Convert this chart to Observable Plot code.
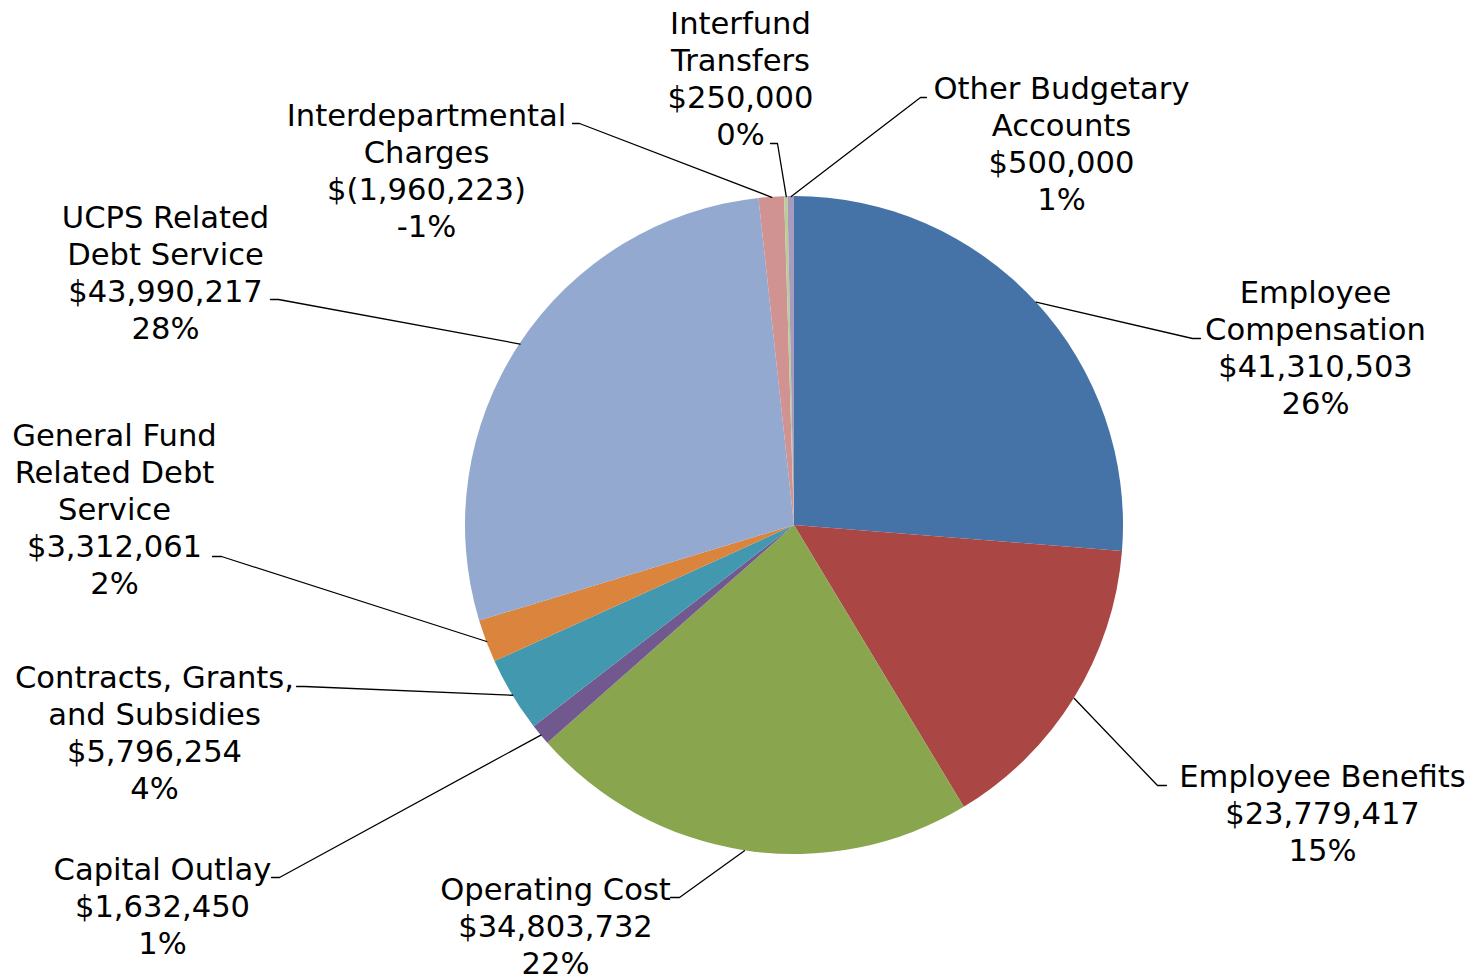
<!DOCTYPE html>
<html>
<head>
<meta charset="utf-8">
<script src="https://cdn.jsdelivr.net/npm/d3@7"></script>
<script src="https://cdn.jsdelivr.net/npm/@observablehq/plot@0.6"></script>
<style>
html, body { margin: 0; padding: 0; background: #fff; }
#chart svg { display: block; }
</style>
</head>
<body>
<div id="chart"></div>
<script>
// ---------- data ----------
const categories = [
  "Employee Compensation", "Employee Benefits", "Operating Cost", "Capital Outlay",
  "Contracts, Grants, and Subsidies", "General Fund Related Debt Service",
  "UCPS Related Debt Service", "Interdepartmental Charges", "Interfund Transfers",
  "Other Budgetary Accounts"
];
const categoryLabels = [
  "Employee\nCompensation", "Employee Benefits", "Operating Cost", "Capital Outlay",
  "Contracts, Grants,\nand Subsidies", "General Fund\nRelated Debt\nService",
  "UCPS Related\nDebt Service", "Interdepartmental\nCharges", "Interfund\nTransfers",
  "Other Budgetary\nAccounts"
];
const amounts = [41310503, 23779417, 34803732, 1632450, 5796254, 3312061, 43990217, -1960223, 250000, 500000];
const percentLabels = ["26%", "15%", "22%", "1%", "4%", "2%", "28%", "-1%", "0%", "1%"];
const colors = ["#4572A7", "#AA4643", "#89A54E", "#71588F", "#4198AF", "#DB843D", "#93A9CF", "#D19392", "#B9CD96", "#A99BBD"];

// ---------- layout (pixels) ----------
const pieCenter = [794, 525];
const pieRadius = 329;
// label block centre (lx, ly), leader elbow (ex, ey), leader end (tx)
const labelLayout = [
  {lx: 1315, ly: 346, ex: 1192, ey: 338, tx: 1200},
  {lx: 1322, ly: 812, ex: 1157, ey: 785, tx: 1166},
  {lx: 555,  ly: 925, ex: 679,  ey: 897, tx: 670},
  {lx: 162,  ly: 905, ex: 279,  ey: 877, tx: 271},
  {lx: 154,  ly: 731, ex: 304,  ey: 686, tx: 296},
  {lx: 114,  ly: 508, ex: 221,  ey: 556, tx: 212},
  {lx: 165,  ly: 271, ex: 278,  ey: 299, tx: 270},
  {lx: 426,  ly: 169, ex: 579,  ey: 123, tx: 572},
  {lx: 740,  ly: 77,  ex: 777,  ey: 143, tx: 770},
  {lx: 1061, ly: 142, ex: 920,  ey: 97,  tx: 926}
];

const fmt = d3.format(",");
const moneyLabel = v => v < 0 ? `$(${fmt(-v)})` : `$${fmt(v)}`;

const arcs = d3.pie().sort(null).value(d => Math.abs(d)).startAngle(0).endAngle(2 * Math.PI)(amounts);

const labels = categories.map((c, i) => ({
  name: c,
  text: `${categoryLabels[i]}\n${moneyLabel(amounts[i])}\n${percentLabels[i]}`,
  x: labelLayout[i].lx,
  y: labelLayout[i].ly
}));

const leaders = [];
arcs.forEach((a, i) => {
  const mid = (a.startAngle + a.endAngle) / 2;
  const L = labelLayout[i];
  leaders.push({name: categories[i], x: pieCenter[0] + pieRadius * Math.sin(mid), y: pieCenter[1] - pieRadius * Math.cos(mid)});
  leaders.push({name: categories[i], x: L.ex, y: L.ey});
  leaders.push({name: categories[i], x: L.tx, y: L.ey});
});

function pieMark(index, scales, values, dimensions, context) {
  const sx = (scales && scales.x) || (v => v);
  const sy = (scales && scales.y) || (v => v);
  const cx = sx(pieCenter[0]), cy = sy(pieCenter[1]);
  const r = Math.abs(sx(pieCenter[0] + pieRadius) - cx);
  const arc = d3.arc().innerRadius(0).outerRadius(r);
  const g = d3.create("svg:g").attr("transform", `translate(${cx},${cy})`);
  g.selectAll("path").data(arcs).join("path")
    .attr("d", arc)
    .attr("fill", (d, i) => colors[i]);
  return g.node();
}

const chart = Plot.plot({
  width: 1474,
  height: 979,
  margin: 0,
  style: {background: "white", fontFamily: "'DejaVu Sans', Verdana, sans-serif"},
  x: {domain: [0, 1474], range: [0, 1474], axis: null},
  y: {domain: [0, 979], range: [0, 979], axis: null},
  marks: [
    pieMark,
    Plot.line(leaders, {x: "x", y: "y", z: "name", stroke: "black", strokeWidth: 1.3, curve: "linear"}),
    Plot.text(labels, {
      x: "x", y: "y", text: "text",
      fontSize: 30.6, lineHeight: 1.21,
      fontFamily: "'DejaVu Sans', Verdana, sans-serif",
      fill: "black", textAnchor: "middle", lineAnchor: "middle"
    })
  ]
});
document.getElementById("chart").appendChild(chart);
</script>
</body>
</html>
